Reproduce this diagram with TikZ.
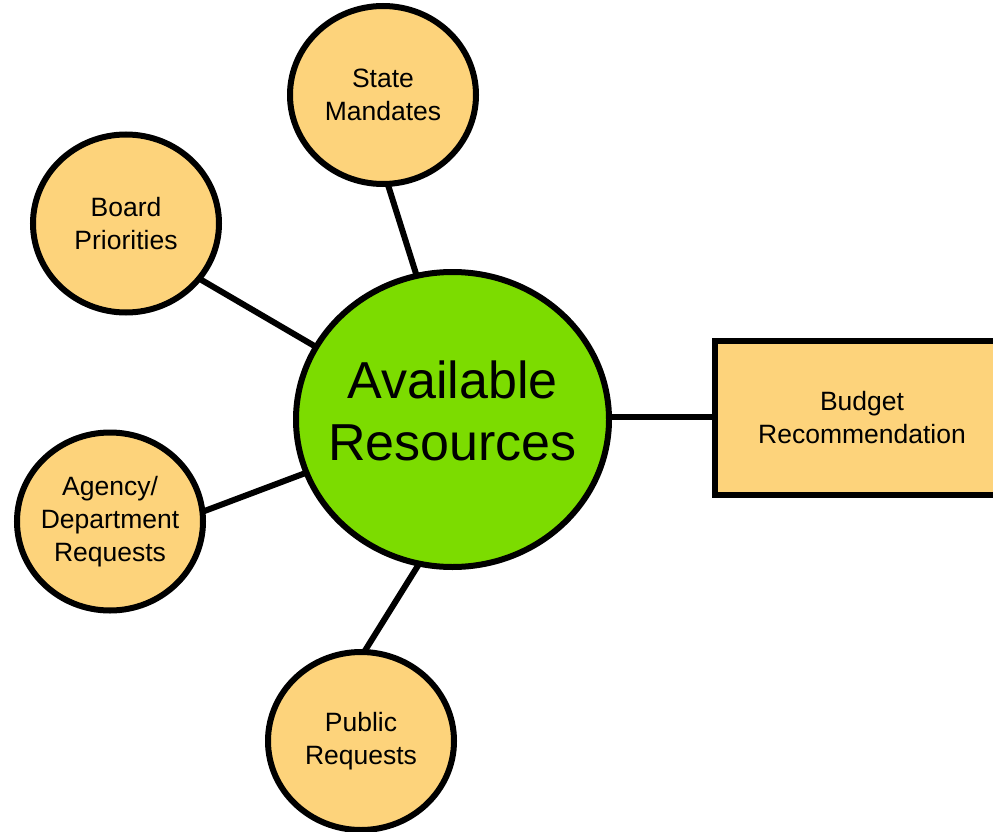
\documentclass[tikz,border=0pt]{standalone}
\usepackage{fontspec}
\setmainfont{Liberation Sans}
\usetikzlibrary{shapes.geometric}
\definecolor{bubbleorange}{HTML}{FDD37B}
\definecolor{hubgreen}{HTML}{7CDC00}
\tikzset{
  bubble/.style={ellipse,draw,line width=6pt,outer sep=0pt,inner xsep=-20pt,inner ysep=0pt,fill=bubbleorange,
    minimum width=186pt,minimum height=178pt,align=center,font=\fontsize{26.5}{33}\selectfont},
  hub/.style={ellipse,draw,line width=6pt,outer sep=0pt,inner xsep=-40pt,inner ysep=0pt,fill=hubgreen,
    minimum width=313pt,minimum height=295pt,align=center,font=\fontsize{52}{62}\selectfont},
  outbox/.style={rectangle,draw,line width=6pt,outer sep=0pt,inner sep=0pt,fill=bubbleorange,
    minimum width=294pt,minimum height=154pt,align=center,font=\fontsize{26.5}{33}\selectfont},
  link/.style={line width=6pt}
}
\begin{document}
\begin{tikzpicture}[x=1pt,y=-1pt]
  \useasboundingbox (0,0) rectangle (993,832);
  \clip (0,0) rectangle (993,832);
  % the hub
  \node[hub,text depth=18pt] (ar) at (452.5,419.5) {Available\\Resources};
  % inputs
  \node[bubble] (sm) at (383,95) {State\\Mandates};
  \node[bubble] (bp) at (126,223.5) {Board\\Priorities};
  \node[bubble] (ad) at (110,521.5) {Agency/\\Department\\Requests};
  \node[bubble] (pr) at (361,741) {Public\\Requests};
  % output
  \node[outbox] (br) at (862,418) {Budget\\Recommendation};
  \draw[link] (sm.-87.6) -- (ar.104);
  \draw[link] (bp.-37.4) -- (ar.152.5);
  \draw[link] (ad.6.9) -- (ar.200.2);
  \draw[link] (pr.88.7) -- (ar.-103.2);
  \draw[link] (ar.1) -- (ar.1 -| br.west);
\end{tikzpicture}
\end{document}
